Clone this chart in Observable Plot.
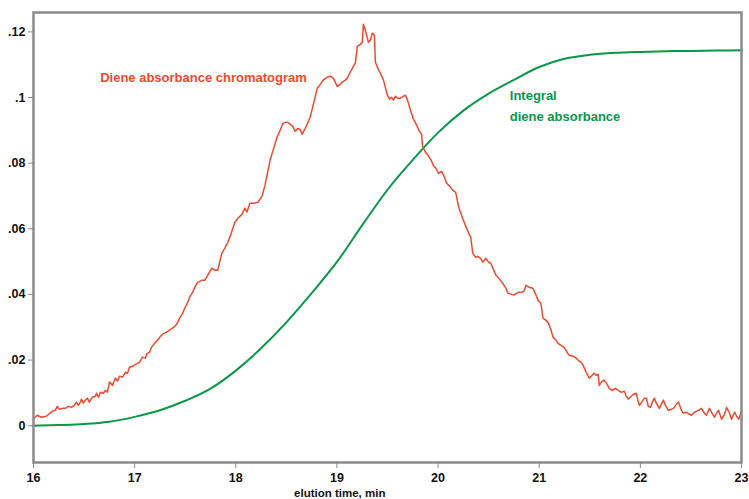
<!DOCTYPE html>
<html>
<head>
<meta charset="utf-8">
<script src="https://cdn.jsdelivr.net/npm/d3@7"></script>
<script src="https://cdn.jsdelivr.net/npm/@observablehq/plot@0.6"></script>
<style>
  html, body { margin: 0; padding: 0; background: #fff; }
  #chart { width: 749px; height: 499px; }
</style>
</head>
<body>
<div id="chart"></div>
<script>
// Diene absorbance chromatogram (red)
const redTime = [16.007,16.037,16.076,16.126,16.186,16.215,16.235,16.255,16.284,16.314,16.344,16.374,16.403,16.423,16.443,16.463,16.473,16.493,16.513,16.532,16.552,16.582,16.612,16.622,16.642,16.662,16.691,16.711,16.731,16.751,16.781,16.810,16.830,16.850,16.880,16.910,16.929,16.949,16.979,17.009,17.048,17.078,17.108,17.118,17.147,17.167,17.197,17.227,17.257,17.276,17.316,17.356,17.386,17.415,17.445,17.475,17.495,17.525,17.544,17.574,17.604,17.624,17.664,17.693,17.723,17.763,17.793,17.822,17.862,17.892,17.922,17.951,17.991,18.021,18.061,18.090,18.110,18.140,18.180,18.219,18.259,18.289,18.319,18.339,18.368,18.408,18.438,18.467,18.507,18.537,18.567,18.587,18.616,18.636,18.656,18.686,18.706,18.735,18.765,18.805,18.835,18.864,18.904,18.934,18.964,18.983,19.003,19.033,19.053,19.083,19.102,19.132,19.162,19.182,19.202,19.231,19.251,19.261,19.281,19.301,19.311,19.331,19.350,19.370,19.380,19.400,19.430,19.460,19.479,19.499,19.519,19.539,19.559,19.579,19.598,19.628,19.658,19.678,19.698,19.727,19.757,19.787,19.817,19.837,19.846,19.876,19.906,19.936,19.956,19.976,20.005,20.035,20.055,20.085,20.114,20.144,20.174,20.204,20.243,20.273,20.303,20.323,20.343,20.372,20.392,20.422,20.442,20.472,20.501,20.521,20.551,20.571,20.601,20.640,20.670,20.690,20.720,20.750,20.779,20.799,20.829,20.849,20.869,20.898,20.938,20.968,20.988,21.017,21.037,21.067,21.087,21.117,21.136,21.166,21.186,21.216,21.246,21.275,21.295,21.335,21.365,21.384,21.414,21.434,21.464,21.494,21.523,21.543,21.563,21.583,21.593,21.623,21.642,21.672,21.692,21.722,21.752,21.781,21.811,21.841,21.861,21.880,21.910,21.930,21.960,21.980,21.990,22.020,22.039,22.059,22.079,22.099,22.119,22.138,22.158,22.188,22.208,22.228,22.248,22.277,22.307,22.327,22.357,22.376,22.406,22.426,22.456,22.486,22.505,22.535,22.575,22.604,22.634,22.654,22.674,22.684,22.714,22.733,22.753,22.773,22.793,22.803,22.833,22.852,22.882,22.902,22.922,22.932,22.952,22.971,22.991,23.000];
const redAbs = [0.0023,0.0032,0.0026,0.0029,0.0044,0.0047,0.0059,0.0050,0.0053,0.0053,0.0059,0.0056,0.0062,0.0072,0.0062,0.0072,0.0081,0.0069,0.0078,0.0084,0.0072,0.0087,0.0090,0.0099,0.0087,0.0102,0.0099,0.0108,0.0102,0.0133,0.0123,0.0145,0.0136,0.0151,0.0148,0.0163,0.0160,0.0178,0.0181,0.0187,0.0193,0.0209,0.0206,0.0218,0.0224,0.0239,0.0251,0.0261,0.0273,0.0279,0.0285,0.0294,0.0300,0.0309,0.0328,0.0343,0.0358,0.0376,0.0392,0.0407,0.0428,0.0437,0.0443,0.0443,0.0459,0.0480,0.0474,0.0474,0.0526,0.0541,0.0559,0.0583,0.0620,0.0632,0.0644,0.0663,0.0651,0.0678,0.0678,0.0681,0.0699,0.0733,0.0778,0.0809,0.0839,0.0879,0.0900,0.0922,0.0925,0.0919,0.0910,0.0897,0.0906,0.0903,0.0888,0.0906,0.0919,0.0940,0.0977,0.1028,0.1040,0.1053,0.1062,0.1065,0.1059,0.1047,0.1034,0.1040,0.1047,0.1053,0.1059,0.1077,0.1095,0.1105,0.1156,0.1162,0.1168,0.1223,0.1205,0.1181,0.1168,0.1175,0.1196,0.1190,0.1108,0.1092,0.1074,0.1053,0.1031,0.1007,0.0995,0.1001,0.0992,0.1004,0.0998,0.0998,0.1004,0.1007,0.0992,0.0961,0.0934,0.0916,0.0897,0.0888,0.0852,0.0833,0.0821,0.0806,0.0791,0.0785,0.0769,0.0775,0.0763,0.0739,0.0730,0.0718,0.0711,0.0666,0.0632,0.0608,0.0587,0.0574,0.0526,0.0513,0.0516,0.0510,0.0498,0.0510,0.0498,0.0495,0.0474,0.0459,0.0449,0.0434,0.0419,0.0404,0.0401,0.0398,0.0404,0.0407,0.0407,0.0410,0.0428,0.0422,0.0419,0.0398,0.0382,0.0373,0.0328,0.0321,0.0315,0.0291,0.0270,0.0261,0.0251,0.0245,0.0239,0.0224,0.0215,0.0212,0.0206,0.0200,0.0193,0.0184,0.0163,0.0145,0.0154,0.0160,0.0154,0.0157,0.0123,0.0136,0.0139,0.0126,0.0114,0.0108,0.0114,0.0108,0.0102,0.0105,0.0090,0.0081,0.0090,0.0096,0.0099,0.0072,0.0062,0.0075,0.0084,0.0084,0.0059,0.0056,0.0072,0.0084,0.0069,0.0053,0.0066,0.0078,0.0062,0.0047,0.0050,0.0053,0.0066,0.0072,0.0047,0.0038,0.0041,0.0035,0.0032,0.0041,0.0047,0.0053,0.0038,0.0032,0.0047,0.0053,0.0035,0.0026,0.0038,0.0047,0.0029,0.0020,0.0035,0.0056,0.0038,0.0020,0.0035,0.0041,0.0029,0.0020,0.0035,0.0047];

// Integral diene absorbance (green)
const greenTime = [16.00,16.25,16.50,16.75,17.00,17.25,17.50,17.75,18.00,18.25,18.50,18.75,19.00,19.25,19.50,19.75,20.00,20.25,20.50,20.75,21.00,21.25,21.50,21.75,22.00,22.25,22.50,22.75,23.00];
const greenAbs  = [0.0000,0.0002,0.0005,0.0012,0.0027,0.0047,0.0076,0.0113,0.0168,0.0236,0.0315,0.0404,0.0499,0.0611,0.0719,0.0810,0.0893,0.0960,0.1012,0.1054,0.1093,0.1118,0.1130,0.1136,0.1139,0.1141,0.1142,0.1143,0.1144];

// Axis ticks
const xTicks = [16, 17, 18, 19, 20, 21, 22, 23];
const yTicks = [0, 0.02, 0.04, 0.06, 0.08, 0.10, 0.12];
const xLabel = "elution time, min";

// Annotations
const annoText = ["Diene absorbance chromatogram", "Integral", "diene absorbance"];
const annoTime = [16.659, 20.709, 20.709];
const annoAbs  = [0.1060, 0.1005, 0.0942];
const annoSeries = ["red", "green", "green"];

const RED = "#ef4a30";
const GREEN = "#0a9748";

const red = redTime.map((t, i) => ({t, v: redAbs[i]}));
const green = greenTime.map((t, i) => ({t, v: greenAbs[i]}));
const annos = annoText.map((s, i) => ({s, t: annoTime[i], v: annoAbs[i], c: annoSeries[i] === "red" ? RED : GREEN}));

const fmtY = d => d === 0 ? "0" : d3.format(".2~f")(d).replace(/^0/, "");

const chart = Plot.plot({
  width: 749,
  height: 499,
  marginLeft: 33,
  marginRight: 8,
  marginTop: 12,
  marginBottom: 37,
  style: {fontFamily: "'Liberation Sans', Arial, sans-serif", fontSize: "12.5px", fontWeight: "bold", background: "#fff", color: "#000"},
  x: {domain: [16, 23]},
  y: {domain: [-0.0112, 0.1259]},
  marks: [
    Plot.axisX({ticks: xTicks, tickSize: 6, tickPadding: 5, stroke: "#888", fill: "#111", label: null, tickFormat: d => String(d), fontSize: 12.5}),
    Plot.axisY({ticks: yTicks, tickSize: 5, tickPadding: 3, stroke: "#888", fill: "#111", label: null, tickFormat: fmtY, fontSize: 12.5}),
    Plot.line(green, {x: "t", y: "v", stroke: GREEN, strokeWidth: 2, curve: "monotone-x"}),
    Plot.line(red, {x: "t", y: "v", stroke: RED, strokeWidth: 1.5}),
    Plot.text(annos, {x: "t", y: "v", text: "s", fill: "c", textAnchor: "start", lineAnchor: "middle", fontSize: 13, fontWeight: "bold"}),
    Plot.text([xLabel], {x: [19.028], frameAnchor: "bottom", dy: 30.5, text: d => d, fill: "#111", textAnchor: "middle", lineAnchor: "middle", fontSize: 11.5, fontWeight: "bold"}),
    Plot.frame({stroke: "#8a8a8a", strokeWidth: 2.5})
  ]
});
document.getElementById("chart").appendChild(chart);
</script>
</body>
</html>
